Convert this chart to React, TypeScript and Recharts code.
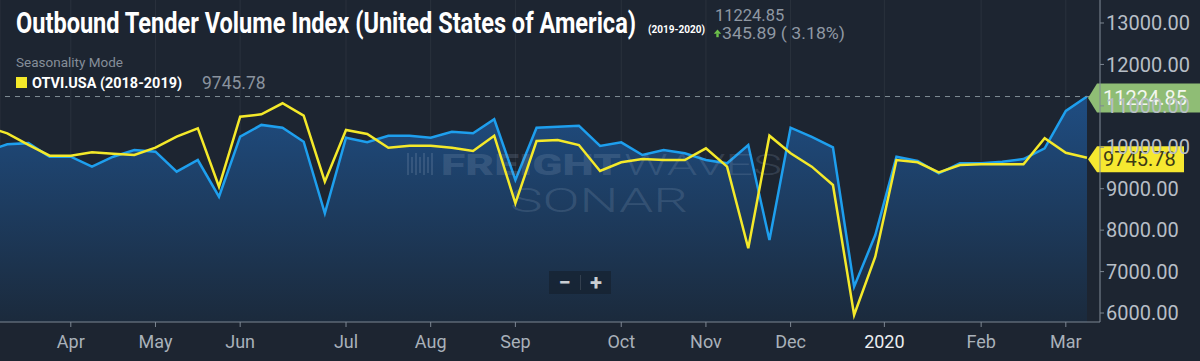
import React from "react";
import * as Recharts from "recharts";
import {
  ComposedChart, Area, Line, XAxis, YAxis, CartesianGrid, ReferenceLine,
} from "recharts";

// weekly points, first one sits just left of the visible window
const weeks = [
  "2019-03-10", "2019-03-17", "2019-03-24", "2019-03-31", "2019-04-07", "2019-04-14",
  "2019-04-21", "2019-04-28", "2019-05-05", "2019-05-12", "2019-05-19", "2019-05-26",
  "2019-06-02", "2019-06-09", "2019-06-16", "2019-06-23", "2019-06-30", "2019-07-07",
  "2019-07-14", "2019-07-21", "2019-07-28", "2019-08-04", "2019-08-11", "2019-08-18",
  "2019-08-25", "2019-09-01", "2019-09-08", "2019-09-15", "2019-09-22", "2019-09-29",
  "2019-10-06", "2019-10-13", "2019-10-20", "2019-10-27", "2019-11-03", "2019-11-10",
  "2019-11-17", "2019-11-24", "2019-12-01", "2019-12-08", "2019-12-15", "2019-12-22",
  "2019-12-29", "2020-01-05", "2020-01-12", "2020-01-19", "2020-01-26", "2020-02-02",
  "2020-02-09", "2020-02-16", "2020-02-23", "2020-03-01", "2020-03-08",
];

// OTVI.USA 2019-2020 (blue area)
const current = [
  9900, 10072, 10100, 9773, 9773, 9532, 9773, 9935, 9894, 9411, 9693, 8808,
  10256, 10540, 10473, 10135, 8406, 10232, 10120, 10280, 10280, 10232, 10376, 10338,
  10676, 9211, 10473, 10497, 10521, 10031, 10120, 9814, 9935, 9855, 9693, 9613,
  10055, 7762, 10473, 10250, 10000, 6635, 7883, 9773, 9669, 9372, 9613, 9613,
  9652, 9717, 9975, 10878.96, 11224.85,
];

// OTVI.USA 2018-2019 seasonality (yellow line)
const prior = [
  10497, 10338, 10060, 9797, 9797, 9879, 9845, 9814, 9990, 10256, 10458, 9049,
  10738, 10796, 11062, 10763, 9170, 10417, 10321, 9990, 10039, 10039, 9990, 9910,
  10280, 8648, 10152, 10176, 10055, 9428, 9638, 9717, 9693, 9693, 9975, 9532,
  7562, 10280, 9855, 9532, 9090, 5952, 7359, 9693, 9638, 9396, 9572, 9590,
  9590, 9590, 10217, 9869, 9745.78,
];

const tickDates = [
  "2019-04-07", "2019-05-05", "2019-06-02", "2019-07-07", "2019-08-04", "2019-09-01",
  "2019-10-06", "2019-11-03", "2019-12-01", "2020-01-01", "2020-02-02", "2020-03-01",
];
const tickLabels = ["Apr", "May", "Jun", "Jul", "Aug", "Sep", "Oct", "Nov", "Dec", "2020", "Feb", "Mar"];
const yTicks = [6000, 7000, 8000, 9000, 10000, 11000, 12000, 13000];

const DAY = 86400000;
const t0 = Date.parse("2019-03-17");
const xDomain = [t0 - 2.41 * DAY, t0 + 361.3 * DAY];
const yDomain = [5783, 13555];

const data = weeks.map((w, i) => ({ t: Date.parse(w), current: current[i], prior: prior[i] }));
const xTicks = tickDates.map((d) => Date.parse(d));
const lastCurrent = current[current.length - 1];
const lastPrior = prior[prior.length - 1];

const BG = "#1d2531";
const FONT = "Roboto, 'Noto Sans', sans-serif";
const ZLayer: any = (Recharts as any).ZIndexLayer;

function MonthTick(props: any) {
  const { x, y, payload } = props;
  const label = tickLabels[xTicks.indexOf(payload.value)];
  return (
    <text x={x} y={y} dy="0.71em" textAnchor="middle" fontSize={18} fontFamily={FONT}
      fill={label === "2020" ? "#eceef0" : "#a9b1ba"}>
      {label}
    </text>
  );
}

function PriceTag(props: any) {
  const { viewBox, text, bg, fg, right, h } = props;
  const edge = viewBox.x + viewBox.width;
  const cy = viewBox.y + 1.5;
  const tip = edge - 12;
  const left = edge - 3;
  const pts = `${tip},${cy} ${left},${cy - h / 2} ${right},${cy - h / 2} ${right},${cy + h / 2} ${left},${cy + h / 2}`;
  return (
    <g>
      <polygon points={pts} fill={bg} />
      <text x={edge + 3} y={cy} dy="0.355em" fill={fg} fontSize={20} fontFamily={FONT}>{text}</text>
    </g>
  );
}

function Watermark({ alpha }: { alpha: number }) {
  const c = `rgba(150,170,195,${alpha})`;
  return (
    <g pointerEvents="none">
      {[0, 4, 8, 12, 16, 20, 24].map((dx, i) => (
        <rect key={i} x={407 + dx} y={i % 2 ? 157 : 153} width={2} height={i % 2 ? 16 : 22} fill={c} />
      ))}
      <text x={441} y={175} fontSize={29} fontWeight={900} fill={c} fontFamily={FONT}
        textLength={180} lengthAdjust="spacingAndGlyphs">FREIGHT</text>
      <text x={624} y={175} fontSize={29} fontWeight={300} fill={c} fontFamily={FONT}
        textLength={158} lengthAdjust="spacingAndGlyphs">WAVES</text>
      <text x={510} y={212} fontSize={33} fontWeight={300} fill={c} fontFamily={FONT}
        textLength={178} lengthAdjust="spacingAndGlyphs">SONAR</text>
    </g>
  );
}

export default function App() {
  return (
    <div style={{ position: "absolute", left: 0, top: 0, width: 1200, height: 361, background: BG, overflow: "hidden", fontFamily: FONT }}>
      <ComposedChart width={1200} height={361} data={data} margin={{ top: 0, right: 0, bottom: 0, left: 0 }}>
        <defs>
          <linearGradient id="otviFill" x1="0" y1="0" x2="0" y2="1">
            <stop offset="0%" stopColor="#1f4d82" />
            <stop offset="100%" stopColor="#1b2a3c" />
          </linearGradient>
        </defs>
        <CartesianGrid horizontal={false} stroke="rgba(255,255,255,0.06)" />
        <XAxis dataKey="t" type="number" domain={xDomain} allowDataOverflow ticks={xTicks} interval={0}
          height={39} tickSize={5} tickMargin={8} stroke="#7d8793" tick={<MonthTick />} />
        <YAxis orientation="right" width={100} domain={yDomain} allowDataOverflow ticks={yTicks} interval={0}
          tickFormatter={(v: number) => v.toFixed(2)} tickSize={4} tickMargin={2} stroke="#7d8793"
          tick={{ fill: "#b7bec6", fontSize: 20, fontFamily: FONT }} />
        <Area dataKey="current" type="linear" stroke="#1e9fee" strokeWidth={2.5} fill="url(#otviFill)"
          fillOpacity={1} dot={false} activeDot={false} isAnimationActive={false} />
        {ZLayer ? (
          <ZLayer zIndex={250}>
            <Watermark alpha={0.2} />
          </ZLayer>
        ) : null}
        <Line dataKey="prior" type="linear" stroke="#f4e92a" strokeWidth={2.5} dot={false}
          activeDot={false} isAnimationActive={false} />
        <ReferenceLine y={lastCurrent} stroke="#7f8d94" strokeDasharray="5 5"
          label={(p: any) => <PriceTag {...p} text={lastCurrent.toFixed(2)} bg="#8fbd75" fg="#f3f7ef" right={1200} h={29} />} />
        <ReferenceLine y={lastPrior} stroke="none" strokeOpacity={0}
          label={(p: any) => <PriceTag {...p} text={lastPrior.toFixed(2)} bg="#f6e830" fg="#3d3a16" right={1184} h={26} />} />
      </ComposedChart>

      <svg width={1200} height={361} style={{ position: "absolute", left: 0, top: 0, pointerEvents: "none" }}>
        {ZLayer ? null : <Watermark alpha={0.14} />}
        <text x={16} y={33} fontFamily={FONT} fontWeight={700} fontSize={29} fill="#ffffff"
          textLength={620} lengthAdjust="spacingAndGlyphs">Outbound Tender Volume Index (United States of America)</text>
        <text x={648} y={33} fontFamily={FONT} fontWeight={700} fontSize={11.5} fill="#ffffff"
          textLength={57} lengthAdjust="spacingAndGlyphs">(2019-2020)</text>
        <text x={715} y={21} fontFamily={FONT} fontSize={16.5} fill="#8f98a3">11224.85</text>
        <polygon points="717.5,29.5 713.8,33.8 721.2,33.8" fill="#6cc04a" />
        <rect x={716.3} y={33.6} width={2.4} height={3.6} fill="#6cc04a" />
        <text x={722} y={38.8} fontFamily={FONT} fontSize={16.5} fill="#8f98a3"
          textLength={123} lengthAdjust="spacingAndGlyphs">345.89 ( 3.18%)</text>
        <text x={16} y={66.5} fontFamily={FONT} fontSize={13.5} fill="#858e99">Seasonality Mode</text>
        <rect x={16} y={77} width={11} height={11} fill="#f4e92a" />
        <text x={32} y={88.3} fontFamily={FONT} fontWeight={700} fontSize={15} fill="#ffffff"
          textLength={150} lengthAdjust="spacingAndGlyphs">OTVI.USA (2018-2019)</text>
        <text x={202} y={89.3} fontFamily={FONT} fontSize={17.5} fill="#8a939e">9745.78</text>
      </svg>

      <div style={{ position: "absolute", left: 549, top: 271, width: 62, height: 23, background: "rgba(20,29,40,0.55)", display: "flex", alignItems: "center", color: "#c9ced3", fontSize: 22, fontWeight: 700, lineHeight: "23px" }}>
        <span style={{ width: 31, textAlign: "center" }}>−</span>
        <span style={{ width: 1, height: 15, background: "rgba(255,255,255,0.12)" }} />
        <span style={{ width: 30, textAlign: "center" }}>+</span>
      </div>
    </div>
  );
}
